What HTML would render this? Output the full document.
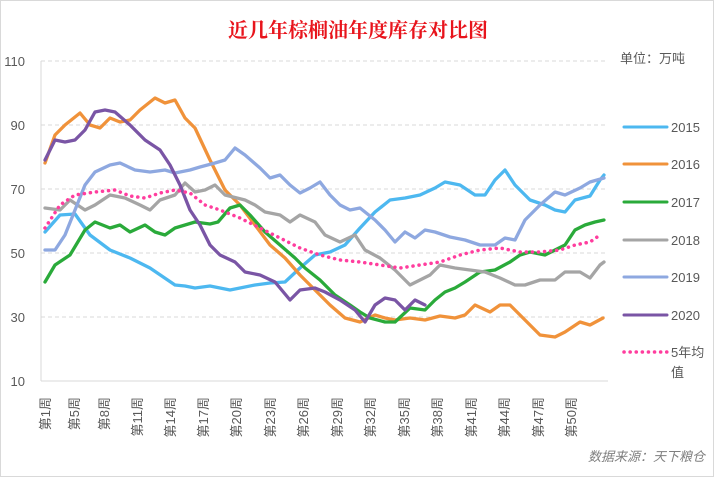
<!DOCTYPE html>
<html><head><meta charset="utf-8"><style>
html,body{margin:0;padding:0;background:#fff;width:716px;height:478px;overflow:hidden}
</style></head><body>
<svg width="716" height="478" viewBox="0 0 716 478" xmlns="http://www.w3.org/2000/svg" font-family="Liberation Sans, Noto Sans CJK SC, sans-serif">
<rect x="0.5" y="0.5" width="713" height="476" fill="#fff" stroke="#d9d9d9"/>
<text x="358" y="37" text-anchor="middle" font-size="20" font-weight="bold" fill="#e8141c" font-family="Liberation Serif, Noto Serif CJK SC, serif">近几年棕榈油年度库存对比图</text>
<text x="620" y="63" font-size="13" fill="#595959">单位：万吨</text>
<g stroke="#d9d9d9" stroke-dasharray="4,3" stroke-width="1">
<line x1="41" y1="61" x2="606" y2="61"/><line x1="41" y1="125" x2="606" y2="125"/><line x1="41" y1="189" x2="606" y2="189"/><line x1="41" y1="253" x2="606" y2="253"/><line x1="41" y1="317" x2="606" y2="317"/>
</g>
<line x1="41" y1="61" x2="41" y2="381" stroke="#d9d9d9"/>
<line x1="41" y1="381" x2="608" y2="381" stroke="#d9d9d9"/>
<g font-size="13" fill="#595959" text-anchor="end">
<text x="25" y="66">110</text><text x="25" y="130">90</text><text x="25" y="194">70</text><text x="25" y="258">50</text><text x="25" y="322">30</text><text x="25" y="386">10</text>
</g>
<g font-size="13" fill="#595959" text-anchor="end">
<text transform="translate(50,397) rotate(-90)">第1周</text>
<text transform="translate(79,397) rotate(-90)">第5周</text>
<text transform="translate(109,397) rotate(-90)">第8周</text>
<text transform="translate(142,397) rotate(-90)">第11周</text>
<text transform="translate(175,397) rotate(-90)">第14周</text>
<text transform="translate(208,397) rotate(-90)">第17周</text>
<text transform="translate(241,397) rotate(-90)">第20周</text>
<text transform="translate(275,397) rotate(-90)">第23周</text>
<text transform="translate(308,397) rotate(-90)">第26周</text>
<text transform="translate(342,397) rotate(-90)">第29周</text>
<text transform="translate(375,397) rotate(-90)">第32周</text>
<text transform="translate(409,397) rotate(-90)">第35周</text>
<text transform="translate(442,397) rotate(-90)">第38周</text>
<text transform="translate(476,397) rotate(-90)">第41周</text>
<text transform="translate(509,397) rotate(-90)">第44周</text>
<text transform="translate(543,397) rotate(-90)">第47周</text>
<text transform="translate(576,397) rotate(-90)">第50周</text>
</g>
<g fill="none" stroke-width="3.3" stroke-linejoin="round" stroke-linecap="round">
<polyline stroke="#4db8f0" points="45,232 60,215 75,214 90,235 110,250 130,258 150,268 175,285 185,286 195,288 210,286 230,290 240,288 255,285 270,283 285,282 300,268 315,255 330,252 345,245 360,228 375,212 390,200 405,198 420,195 435,188 445,182 460,185 475,195 485,195 495,180 505,170 515,185 530,200 545,205 555,210 565,212 575,200 590,196 600,180 604,175"/>
<polyline stroke="#f0923a" points="45,163 55,135 65,125 80,113 90,125 100,128 110,118 120,122 130,120 140,110 155,98 165,103 175,100 185,118 195,128 210,160 225,190 240,205 255,225 270,245 285,258 300,275 315,290 330,305 345,318 360,322 375,315 385,318 395,320 410,318 425,320 440,316 455,318 465,315 475,305 490,312 500,305 510,305 525,320 540,335 555,337 565,332 580,322 590,325 603,318"/>
<polyline stroke="#2aaa3a" points="45,282 55,265 70,255 85,230 95,222 110,228 120,225 130,232 145,225 155,232 165,235 175,228 185,225 195,222 210,224 218,222 230,208 240,205 250,215 265,232 280,245 295,258 305,268 320,280 335,295 350,305 360,312 370,318 385,322 395,322 410,308 425,310 435,300 445,292 455,288 465,282 480,272 495,270 510,262 520,255 530,252 545,255 555,250 565,245 575,230 585,225 595,222 604,220"/>
<polyline stroke="#a5a5a5" points="45,208 60,210 70,200 85,210 95,205 110,195 125,198 140,205 150,210 160,200 175,195 185,183 195,192 205,190 215,185 225,195 245,200 255,205 265,212 280,215 290,222 300,215 315,222 325,235 340,242 355,235 365,250 380,258 395,270 410,285 420,280 430,275 440,265 455,268 470,270 485,272 500,278 515,285 525,285 540,280 555,280 565,272 580,272 590,278 600,265 604,262"/>
<polyline stroke="#8ea8e0" points="45,250 55,250 65,235 75,210 85,185 95,172 110,165 120,163 135,170 150,172 165,170 175,173 190,170 200,167 215,163 225,160 235,148 245,155 260,168 270,178 280,175 290,185 300,193 310,188 320,182 330,195 340,205 350,210 360,208 375,220 385,230 395,242 405,232 415,238 425,230 435,232 450,237 465,240 480,245 495,245 505,238 515,240 525,220 540,205 555,192 565,195 580,188 590,182 604,178"/>
<polyline stroke="#7a55a5" points="45,160 55,140 65,142 75,140 85,130 95,112 105,110 115,112 130,125 145,140 160,150 170,165 180,185 190,210 200,225 210,245 220,255 235,262 245,272 260,275 275,282 290,300 300,290 315,288 325,292 340,300 355,310 365,322 375,305 385,298 395,300 405,310 415,300 425,305"/>
<polyline stroke="#ff3d9e" stroke-dasharray="0.1,6" stroke-width="3.5" points="45,228 60,205 75,195 95,192 115,190 130,196 145,198 160,193 175,190 190,193 205,205 220,210 240,218 260,228 280,238 300,248 320,255 340,260 360,262 380,265 400,268 420,265 440,262 460,255 480,250 500,248 520,252 540,252 560,250 575,245 590,242 600,235"/>
</g>
<g stroke-width="3" stroke-linecap="round">
<line x1="624" y1="127" x2="667" y2="127" stroke="#4db8f0"/>
<line x1="624" y1="164" x2="667" y2="164" stroke="#f0923a"/>
<line x1="624" y1="202" x2="667" y2="202" stroke="#2aaa3a"/>
<line x1="624" y1="240" x2="667" y2="240" stroke="#a5a5a5"/>
<line x1="624" y1="277" x2="667" y2="277" stroke="#8ea8e0"/>
<line x1="624" y1="315" x2="667" y2="315" stroke="#7a55a5"/>
<line x1="624" y1="352" x2="667" y2="352" stroke="#ff3d9e" stroke-dasharray="0.1,6" stroke-width="3.5"/>
</g>
<g font-size="13" fill="#595959">
<text x="671" y="132">2015</text><text x="671" y="169">2016</text><text x="671" y="207">2017</text><text x="671" y="245">2018</text><text x="671" y="282">2019</text><text x="671" y="320">2020</text><text x="671" y="357">5年均</text><text x="671" y="377">值</text>
</g>
<text x="705" y="461" text-anchor="end" font-size="13" fill="#7f7f7f" font-style="italic">数据来源：天下粮仓</text>
</svg>
</body></html>
